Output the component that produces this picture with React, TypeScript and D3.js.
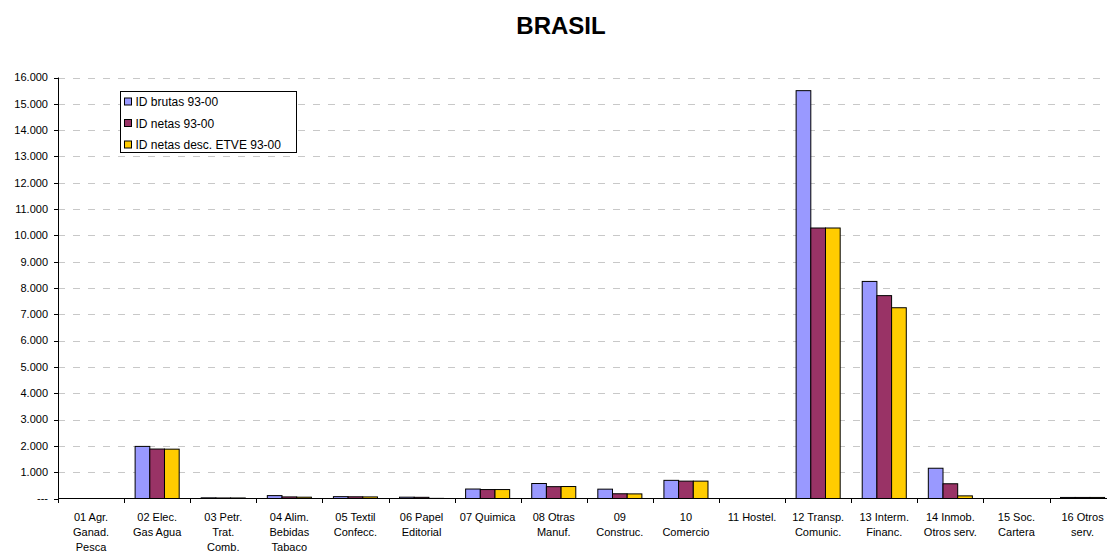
import React from "react";
import * as d3 from "d3";

const categories = [
  ["01 Agr.", "Ganad.", "Pesca"],
  ["02 Elec.", "Gas Agua"],
  ["03 Petr.", "Trat.", "Comb."],
  ["04 Alim.", "Bebidas", "Tabaco"],
  ["05 Textil", "Confecc."],
  ["06 Papel", "Editorial"],
  ["07 Quimica"],
  ["08 Otras", "Manuf."],
  ["09", "Construc."],
  ["10", "Comercio"],
  ["11 Hostel."],
  ["12 Transp.", "Comunic."],
  ["13 Interm.", "Financ."],
  ["14 Inmob.", "Otros serv."],
  ["15 Soc.", "Cartera"],
  ["16 Otros", "serv."],
];

const seriesNames = ["ID brutas 93-00", "ID netas 93-00", "ID netas desc. ETVE 93-00"];
const seriesColors = ["#9999FF", "#993366", "#FFCC00"];

const brutas = [0, 1980, 25, 110, 70, 50, 360, 570, 355, 690, 0, 15500, 8250, 1150, 0, 40];
const netas = [0, 1880, 20, 60, 65, 45, 340, 450, 180, 660, 0, 10280, 7710, 560, 0, 40];
const netasEtve = [0, 1875, 20, 50, 60, 5, 340, 455, 175, 660, 0, 10280, 7250, 100, 0, 40];

const yTicks = [0, 1000, 2000, 3000, 4000, 5000, 6000, 7000, 8000, 9000, 10000, 11000, 12000, 13000, 14000, 15000, 16000];

const W = 1107;
const H = 552;

const locale = d3.formatLocale({ decimal: ",", thousands: ".", grouping: [3], currency: ["", ""] });
const fmt = locale.format(",d");

export default function App() {
  const seriesData = [brutas, netas, netasEtve];
  const catKeys = categories.map((c) => c.join(" "));

  const x = d3.scaleBand<string>().domain(catKeys).range([58, 1115.6]).paddingInner(0).paddingOuter(0);
  const xs = d3
    .scaleBand<number>()
    .domain([0, 1, 2])
    .range([0, x.bandwidth()])
    .paddingInner(0)
    .paddingOuter(0.75);
  const y = d3.scaleLinear().domain([0, 16000]).range([498.5, 77.5]);

  const font = "Arial, 'Liberation Sans', Helvetica, sans-serif";

  return (
    <svg
      width={W}
      height={H}
      style={{ position: "absolute", left: 0, top: 0, display: "block", background: "#fff" }}
      fontFamily={font}
    >
      <text x={561} y={34} textAnchor="middle" fontSize={24} fontWeight="bold">
        BRASIL
      </text>

      {/* gridlines */}
      {yTicks
        .filter((t) => t > 0)
        .map((t) => (
          <line
            key={"g" + t}
            x1={58}
            x2={W}
            y1={Math.round(y(t)) + 0.5}
            y2={Math.round(y(t)) + 0.5}
            stroke="#c8c8c8"
            strokeDasharray="7,8"
            strokeWidth={1}
          />
        ))}

      {/* bars */}
      {seriesData.map((vals, si) =>
        vals.map((v, i) => {
          const x0 = (x(catKeys[i]) as number) + (xs(si) as number);
          const top = y(v);
          return (
            <rect
              key={si + "-" + i}
              x={x0}
              y={top}
              width={xs.bandwidth()}
              height={Math.max(0, y(0) - top)}
              fill={seriesColors[si]}
              stroke="#000"
              strokeWidth={1}
            />
          );
        })
      )}

      {/* y axis */}
      <line x1={58.5} x2={58.5} y1={y(16000)} y2={y(0)} stroke="#000" />
      {yTicks.map((t) => (
        <g key={"y" + t}>
          <line x1={54} x2={58.5} y1={Math.round(y(t)) + 0.5} y2={Math.round(y(t)) + 0.5} stroke="#000" />
          <text x={48} y={y(t)} dy="0.35em" textAnchor="end" fontSize={11}>
            {t === 0 ? "---" : fmt(t)}
          </text>
        </g>
      ))}

      {/* x axis */}
      <line x1={58} x2={W} y1={y(0)} y2={y(0)} stroke="#000" />
      {catKeys.map((k) => (
        <line
          key={"t" + k}
          x1={Math.round(x(k) as number) + 0.5}
          x2={Math.round(x(k) as number) + 0.5}
          y1={y(0)}
          y2={y(0) + 4.5}
          stroke="#000"
        />
      ))}
      {categories.map((lines, i) => {
        const cx = (x(catKeys[i]) as number) + x.bandwidth() / 2;
        return (
          <text key={"l" + i} x={cx} y={521} textAnchor="middle" fontSize={11}>
            {lines.map((ln, j) => (
              <tspan key={j} x={cx} y={521 + j * 15.2}>
                {ln}
              </tspan>
            ))}
          </text>
        );
      })}

      {/* legend */}
      <rect x={120.5} y={91.5} width={176} height={61} fill="#fff" stroke="#000" />
      {seriesNames.map((s, i) => (
        <g key={"lg" + i} transform={`translate(124.5, ${98 + i * 21.5})`}>
          <rect x={0} y={0} width={7} height={7} fill={seriesColors[i]} stroke="#000" />
          <text x={11} y={4} dy="0.35em" fontSize={12}>
            {s}
          </text>
        </g>
      ))}
    </svg>
  );
}
